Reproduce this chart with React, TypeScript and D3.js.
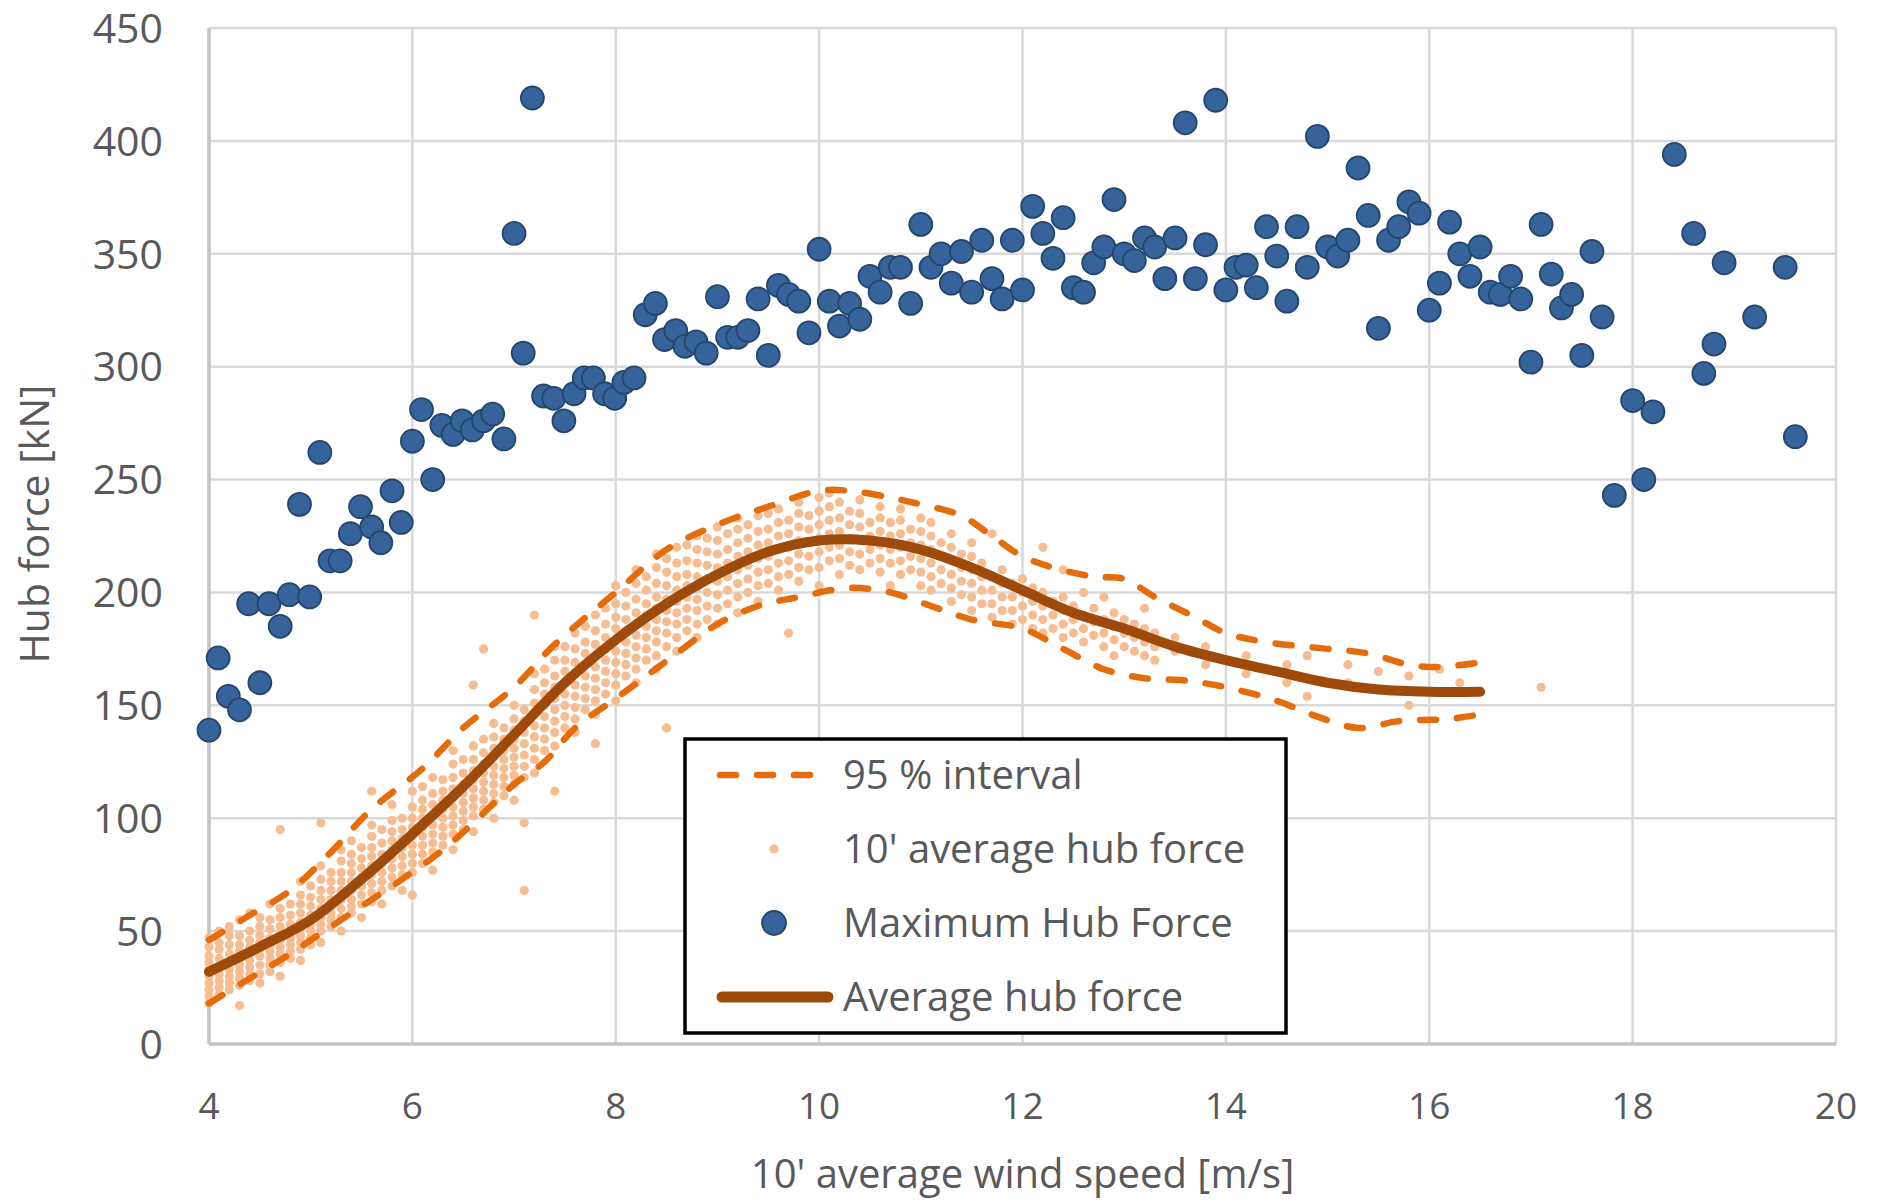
import React from "react";
import * as d3 from "d3";

// wind speed ticks / force ticks
const xTicks = [4, 6, 8, 10, 12, 14, 16, 18, 20];
const yTicks = [0, 50, 100, 150, 200, 250, 300, 350, 400, 450];

// Maximum hub force (blue dots) [wind speed, kN]
const maxHub: [number, number][] = [
  [4.0, 139], [4.09, 171], [4.19, 154], [4.3, 148], [4.39, 195], [4.5, 160], [4.59, 195], [4.7, 185], [4.79, 199], [4.89, 239],
  [4.99, 198], [5.09, 262], [5.19, 214], [5.29, 214], [5.39, 226], [5.49, 238], [5.6, 229], [5.69, 222], [5.8, 245], [5.89, 231],
  [6.0, 267], [6.09, 281], [6.2, 250], [6.29, 274], [6.4, 270], [6.49, 276], [6.59, 272], [6.7, 276], [6.79, 279], [6.9, 268],
  [7.0, 359], [7.09, 306], [7.18, 419], [7.29, 287], [7.39, 286], [7.49, 276], [7.59, 288], [7.69, 295], [7.78, 295], [7.89, 288],
  [7.99, 286], [8.08, 293], [8.18, 295], [8.29, 323], [8.39, 328], [8.48, 312], [8.59, 316], [8.68, 309], [8.79, 311], [8.89, 306],
  [9.0, 331], [9.1, 313], [9.2, 313], [9.3, 316], [9.4, 330], [9.5, 305], [9.6, 336], [9.7, 332], [9.8, 329], [9.9, 315],
  [10.0, 352], [10.1, 329], [10.2, 318], [10.3, 328], [10.4, 321], [10.5, 340], [10.6, 333], [10.7, 344], [10.8, 344], [10.9, 328],
  [11.0, 363], [11.1, 344], [11.2, 350], [11.3, 337], [11.4, 351], [11.5, 333], [11.6, 356], [11.7, 339], [11.8, 330], [11.9, 356],
  [12.0, 334], [12.1, 371], [12.2, 359], [12.3, 348], [12.4, 366], [12.5, 335], [12.6, 333], [12.7, 346], [12.8, 353], [12.9, 374],
  [13.0, 350], [13.1, 347], [13.2, 357], [13.3, 353], [13.4, 339], [13.5, 357], [13.6, 408], [13.7, 339], [13.8, 354], [13.9, 418],
  [14.0, 334], [14.1, 344], [14.2, 345], [14.3, 335], [14.4, 362], [14.5, 349], [14.6, 329], [14.7, 362], [14.8, 344], [14.9, 402],
  [15.0, 353], [15.1, 349], [15.2, 356], [15.3, 388], [15.4, 367], [15.5, 317], [15.6, 356], [15.7, 362], [15.8, 373], [15.9, 368],
  [16.0, 325], [16.1, 337], [16.2, 364], [16.3, 350], [16.4, 340], [16.5, 353], [16.6, 333], [16.7, 332], [16.8, 340], [16.9, 330],
  [17.0, 302], [17.1, 363], [17.2, 341], [17.3, 326], [17.4, 332], [17.5, 305], [17.6, 351], [17.7, 322], [17.82, 243], [18.0, 285],
  [18.11, 250], [18.2, 280], [18.41, 394], [18.6, 359], [18.7, 297], [18.8, 310], [18.9, 346], [19.2, 322], [19.5, 344], [19.6, 269],
];

// 10' average hub force (light orange cloud), one column per wind speed bin
const avgHubCols: [number, number[]][] = [
  [4.0, [18, 21, 24, 27, 30, 33, 36, 39, 43, 47]],
  [4.1, [22, 25, 28, 31, 34, 38, 42, 45, 50]],
  [4.2, [24, 27, 30, 33, 36, 40, 44, 48, 52]],
  [4.3, [17, 26, 29, 32, 35, 38, 41, 44, 48, 55]],
  [4.4, [28, 31, 34, 37, 40, 43, 46, 50, 58]],
  [4.5, [27, 31, 35, 39, 42, 45, 48, 52, 56]],
  [4.6, [32, 35, 38, 41, 44, 47, 51, 55, 62]],
  [4.7, [30, 36, 40, 43, 46, 49, 52, 56, 60, 95]],
  [4.8, [38, 41, 44, 47, 50, 53, 57, 62]],
  [4.9, [37, 42, 45, 48, 51, 54, 58, 62, 66, 72]],
  [5.0, [44, 47, 50, 53, 57, 61, 65, 70]],
  [5.1, [45, 50, 53, 56, 60, 64, 68, 73, 79, 98]],
  [5.2, [52, 55, 58, 61, 64, 68, 72, 76]],
  [5.3, [50, 56, 60, 64, 68, 72, 76, 81, 86]],
  [5.4, [58, 61, 64, 68, 72, 76, 80, 84, 90]],
  [5.5, [56, 62, 66, 70, 74, 78, 82, 87]],
  [5.6, [63, 67, 71, 75, 79, 83, 87, 92, 97, 112]],
  [5.7, [62, 68, 72, 76, 80, 84, 89, 95]],
  [5.8, [70, 74, 78, 82, 86, 90, 94, 99, 106]],
  [5.9, [68, 75, 79, 83, 87, 91, 95, 100]],
  [6.0, [66, 76, 80, 84, 88, 92, 96, 100, 105, 112]],
  [6.1, [80, 84, 88, 92, 96, 100, 104, 108, 114]],
  [6.2, [77, 85, 89, 93, 97, 101, 106, 111, 118]],
  [6.3, [88, 92, 96, 100, 104, 108, 112, 117]],
  [6.4, [86, 93, 97, 101, 105, 109, 113, 118, 124, 130]],
  [6.5, [95, 99, 103, 107, 111, 115, 120, 126]],
  [6.6, [94, 101, 105, 109, 113, 117, 121, 126, 132, 159]],
  [6.7, [104, 108, 112, 116, 120, 124, 129, 135, 175]],
  [6.8, [100, 107, 111, 115, 119, 123, 127, 131, 136, 142]],
  [6.9, [110, 114, 118, 122, 126, 130, 135, 140]],
  [7.0, [108, 115, 119, 123, 127, 131, 135, 139, 144, 150]],
  [7.1, [68, 98, 118, 123, 128, 133, 138, 143, 148]],
  [7.2, [120, 126, 131, 136, 141, 146, 151, 157, 164, 190]],
  [7.3, [130, 135, 140, 145, 150, 155, 160, 166]],
  [7.4, [112, 132, 138, 143, 148, 153, 158, 163, 170, 176]],
  [7.5, [140, 145, 150, 155, 160, 165, 170, 176]],
  [7.6, [138, 144, 149, 154, 159, 164, 169, 175, 182]],
  [7.7, [148, 153, 158, 163, 168, 173, 178, 185]],
  [7.8, [133, 146, 152, 157, 162, 167, 172, 177, 183, 190]],
  [7.9, [155, 160, 165, 170, 175, 180, 186, 193]],
  [8.0, [152, 159, 164, 169, 174, 179, 184, 189, 195, 203]],
  [8.1, [163, 168, 173, 178, 183, 188, 194, 200]],
  [8.2, [160, 166, 171, 176, 181, 186, 191, 197, 204, 210]],
  [8.3, [170, 175, 180, 185, 190, 195, 201, 207]],
  [8.4, [166, 172, 178, 183, 188, 193, 198, 204, 211, 217]],
  [8.5, [140, 176, 182, 187, 192, 197, 203, 209, 215]],
  [8.6, [174, 180, 186, 191, 196, 201, 207, 213, 220]],
  [8.7, [183, 188, 193, 198, 203, 208, 214, 221]],
  [8.8, [180, 186, 192, 197, 202, 207, 213, 219, 225]],
  [8.9, [188, 194, 200, 206, 212, 218, 224]],
  [9.0, [186, 193, 199, 205, 211, 217, 223, 229]],
  [9.1, [195, 201, 207, 213, 219, 226]],
  [9.2, [191, 198, 204, 210, 216, 222, 228, 233]],
  [9.3, [200, 206, 212, 218, 224, 230]],
  [9.4, [196, 203, 209, 215, 221, 227, 234]],
  [9.5, [204, 210, 216, 222, 228, 235]],
  [9.6, [201, 207, 213, 219, 225, 231, 237]],
  [9.7, [182, 208, 214, 220, 226, 232]],
  [9.8, [205, 211, 217, 223, 229, 235, 240]],
  [9.9, [210, 216, 222, 228, 234]],
  [10.0, [203, 211, 218, 224, 230, 236, 242]],
  [10.1, [214, 220, 226, 232, 238, 244]],
  [10.2, [208, 215, 221, 227, 233, 240]],
  [10.3, [212, 218, 224, 230, 236]],
  [10.4, [210, 217, 223, 229, 235, 241]],
  [10.5, [213, 219, 225, 231]],
  [10.6, [209, 215, 221, 227, 233, 238]],
  [10.7, [203, 213, 219, 225, 231]],
  [10.8, [208, 214, 220, 226, 232, 237]],
  [10.9, [210, 216, 222, 228]],
  [11.0, [203, 209, 215, 221, 227, 233]],
  [11.1, [201, 207, 213, 219, 225, 231]],
  [11.2, [204, 210, 216, 222]],
  [11.3, [196, 202, 208, 214, 220, 226]],
  [11.4, [199, 205, 211, 217]],
  [11.5, [192, 198, 204, 210, 216, 222]],
  [11.6, [195, 201, 207, 213]],
  [11.7, [189, 195, 201, 207, 226]],
  [11.8, [192, 198, 204, 210]],
  [11.9, [186, 192, 198, 204]],
  [12.0, [188, 194, 200, 206]],
  [12.1, [184, 190, 196, 202]],
  [12.2, [182, 188, 194, 200, 220]],
  [12.3, [184, 190, 196]],
  [12.4, [180, 186, 192, 198, 210]],
  [12.5, [182, 188, 194]],
  [12.6, [178, 184, 190, 200]],
  [12.7, [181, 187, 193]],
  [12.8, [176, 182, 188, 198]],
  [12.9, [172, 179, 185, 191]],
  [13.0, [176, 182, 188]],
  [13.1, [174, 180, 186]],
  [13.2, [172, 178, 184, 193]],
  [13.3, [170, 176, 182]],
  [13.5, [174, 180]],
  [13.8, [168, 176]],
  [14.2, [164, 172]],
  [14.6, [160, 168]],
  [14.8, [154, 172]],
  [15.2, [160, 168]],
  [15.5, [165]],
  [15.8, [150, 163]],
  [16.1, [166]],
  [16.3, [160]],
  [17.1, [158]],
];

// Average hub force (solid brown line)
const avgHub: [number, number][] = [
  [4.0, 32], [4.5, 43], [5.0, 55], [5.5, 73], [6.0, 93], [6.5, 114], [7.0, 137], [7.5, 160], [8.0, 179],
  [8.5, 195], [9.0, 208], [9.5, 218], [10.0, 223], [10.5, 223], [11.0, 219], [11.5, 211],
  [12.0, 201], [12.5, 191], [13.0, 184], [13.5, 176], [14.0, 170], [14.5, 165], [15.0, 160],
  [15.5, 157], [16.0, 156], [16.5, 156],
];

// 95 % interval (dashed)
const upper95: [number, number][] = [
  [4.0, 46], [4.4, 57], [4.8, 68], [5.2, 85], [5.6, 104], [6.1, 122], [6.5, 140], [7.0, 158], [7.4, 177],
  [8.0, 200], [8.5, 219], [9.0, 230], [9.5, 238], [10.0, 245], [10.3, 245], [10.7, 242], [11.0, 239],
  [11.4, 234], [11.7, 225], [12.0, 216], [12.3, 211], [12.7, 207], [13.0, 206], [13.3, 198], [13.7, 189],
  [14.0, 182], [14.4, 178], [15.0, 175], [15.4, 173], [15.8, 168], [16.1, 167], [16.5, 169],
];
const lower95: [number, number][] = [
  [4.0, 18], [4.4, 29], [4.8, 40], [5.1, 49], [5.5, 61], [5.9, 73], [6.3, 86], [6.6, 98], [7.0, 115],
  [7.3, 125], [7.6, 140], [8.0, 153], [8.3, 163], [8.6, 173], [9.0, 186], [9.4, 194], [9.8, 198],
  [10.3, 202], [10.7, 200], [11.1, 194], [11.5, 188], [12.0, 184], [12.4, 175], [12.8, 166], [13.2, 162],
  [13.6, 161], [14.0, 158], [14.5, 152], [14.9, 145], [15.3, 140], [15.7, 143], [16.2, 144], [16.5, 146],
];

const legendItems = ["95 % interval", "10' average hub force", "Maximum Hub Force", "Average hub force"];

const W = 1883;
const H = 1202;
const font = "'Open Sans', 'Noto Sans', sans-serif";
const textColor = "#595959";

export default function App() {
  const x = d3.scaleLinear().domain([4, 20]).range([209, 1836]);
  const y = d3.scaleLinear().domain([0, 450]).range([1044, 28]);

  const line = d3
    .line<[number, number]>()
    .x((d) => x(d[0]))
    .y((d) => y(d[1]))
    .curve(d3.curveCatmullRom.alpha(0.5));

  const cloud = avgHubCols.flatMap(([wx, ys]) => ys.map((v) => [wx, v] as [number, number]));

  const legX = 685;
  const legY = 739;
  const rowY = (i: number) => legY + 36 + i * 74;

  return (
    <svg
      width={W}
      height={H}
      viewBox={`0 0 ${W} ${H}`}
      style={{ position: "absolute", left: 0, top: 0, background: "#fff" }}
      fontFamily={font}
    >
      <rect width={W} height={H} fill="#fff" />

      {/* grid */}
      <g stroke="#d9d9d9" strokeWidth={2.5}>
        {yTicks.map((t) => (
          <line key={"gy" + t} x1={x(4)} x2={x(20)} y1={y(t)} y2={y(t)} />
        ))}
        {xTicks.map((t) => (
          <line key={"gx" + t} x1={x(t)} x2={x(t)} y1={y(0)} y2={y(450)} />
        ))}
      </g>
      {/* axis lines */}
      <g stroke="#c4c4c4" strokeWidth={3.5}>
        <line x1={x(4)} x2={x(4)} y1={y(0)} y2={y(450)} />
        <line x1={x(4)} x2={x(20)} y1={y(0)} y2={y(0)} />
      </g>

      {/* y tick labels */}
      <g fill={textColor} fontSize={41} textAnchor="end">
        {yTicks.map((t) => (
          <text key={"ty" + t} x={163} y={y(t)} dy="0.36em">
            {t}
          </text>
        ))}
      </g>
      {/* x tick labels */}
      <g fill={textColor} fontSize={37} textAnchor="middle">
        {xTicks.map((t) => (
          <text key={"tx" + t} x={x(t)} y={1106} dy="0.36em">
            {t}
          </text>
        ))}
      </g>
      <text x={(x(4) + x(20)) / 2} y={1174} dy="0.36em" textAnchor="middle" fill={textColor} fontSize={40}>
        10' average wind speed [m/s]
      </text>
      <text
        transform={`translate(34,524) rotate(-90)`}
        dy="0.36em"
        textAnchor="middle"
        fill={textColor}
        fontSize={41}
      >
        Hub force [kN]
      </text>

      {/* 10' average cloud */}
      <g fill="#f7bd92">
        {cloud.map((d, i) => (
          <circle key={"c" + i} cx={x(d[0])} cy={y(d[1])} r={4.6} />
        ))}
      </g>

      {/* 95 % interval */}
      <g fill="none" stroke="#e46c0a" strokeWidth={6.5} strokeDasharray="16 21" strokeLinecap="round">
        <path d={line(upper95) || ""} />
        <path d={line(lower95) || ""} />
      </g>

      {/* Maximum hub force */}
      <g fill="#35639a" stroke="#23466f" strokeWidth={1.8}>
        {maxHub.map((d, i) => (
          <circle key={"m" + i} cx={x(d[0])} cy={y(d[1])} r={11.5} />
        ))}
      </g>

      {/* Average hub force */}
      <path d={line(avgHub) || ""} fill="none" stroke="#9e4a0b" strokeWidth={10} strokeLinecap="round" />

      {/* legend */}
      <g>
        <rect x={legX} y={legY} width={601} height={294} fill="#fff" stroke="#000" strokeWidth={3.5} />
        <line x1={720} x2={814} y1={rowY(0)} y2={rowY(0)} stroke="#e46c0a" strokeWidth={6.5} strokeDasharray="16 21" strokeLinecap="round" />
        <circle cx={774} cy={rowY(1)} r={4.6} fill="#f7bd92" />
        <circle cx={774} cy={rowY(2)} r={12} fill="#35639a" stroke="#23466f" strokeWidth={1.8} />
        <line x1={722} x2={828} y1={rowY(3)} y2={rowY(3)} stroke="#9e4a0b" strokeWidth={11} strokeLinecap="round" />
        <g fill={textColor} fontSize={40}>
          {legendItems.map((s, i) => (
            <text key={s} x={843} y={rowY(i)} dy="0.36em">
              {s}
            </text>
          ))}
        </g>
      </g>
    </svg>
  );
}
